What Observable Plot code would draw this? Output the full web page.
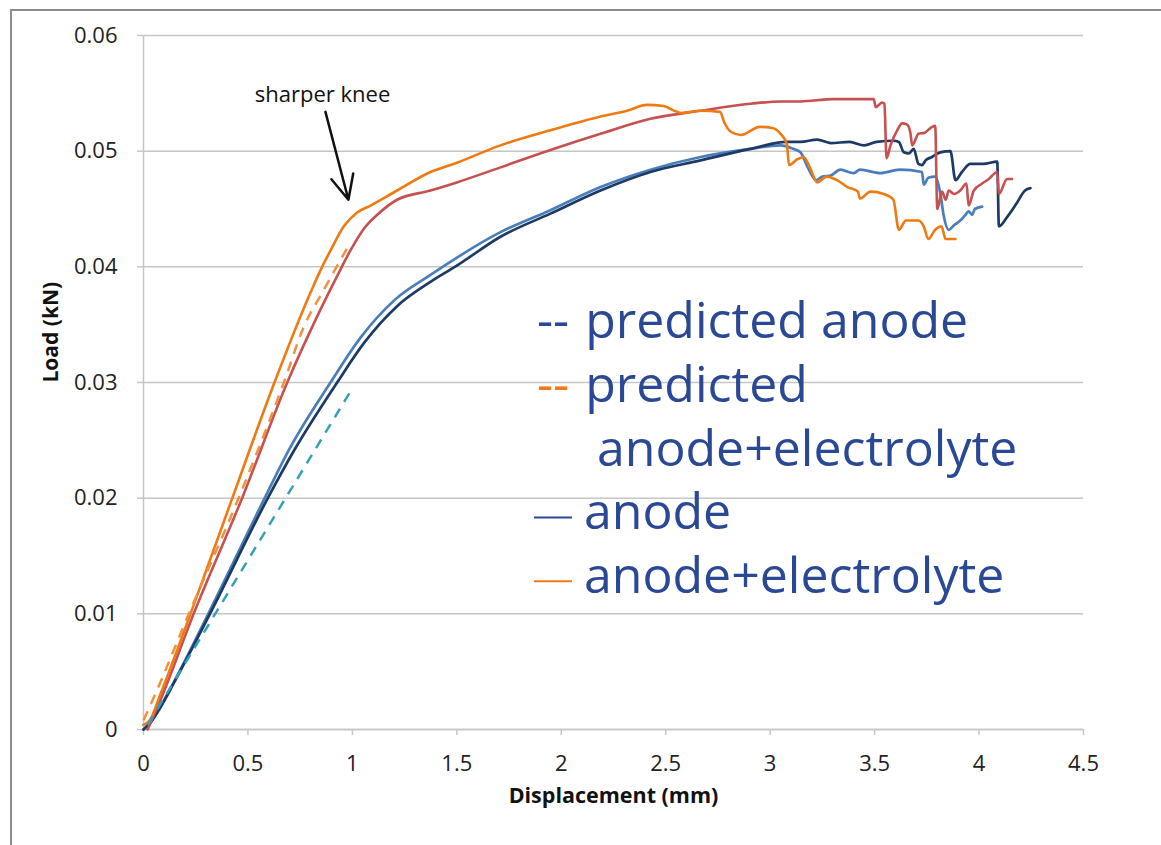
<!DOCTYPE html>
<html><head><meta charset="utf-8">
<script src="https://cdn.jsdelivr.net/npm/d3@7"></script>
<script src="https://cdn.jsdelivr.net/npm/@observablehq/plot@0.6"></script>
<style>
body{margin:0;background:#fff;}
#wrap{position:relative;width:1161px;height:845px;overflow:hidden;background:#fff;}
#frame{position:absolute;left:10px;top:9px;width:1200px;height:900px;border-left:2px solid #8c8c8c;border-top:2px solid #8c8c8c;pointer-events:none;}
#wrap svg{position:absolute;left:0;top:0;}
</style></head><body><div id="wrap"><div id="frame"></div></div>
<script>
// ---- data ----
const xTicks = [0, 0.5, 1, 1.5, 2, 2.5, 3, 3.5, 4, 4.5];
const xTickLabels = ["0", "0.5", "1", "1.5", "2", "2.5", "3", "3.5", "4", "4.5"];
const yTicks = [0, 0.01, 0.02, 0.03, 0.04, 0.05, 0.06];
const yTickLabels = ["0", "0.01", "0.02", "0.03", "0.04", "0.05", "0.06"];

// measured anode (dark)
const anodeDark = [[0,0],[0.03,0.0005],[0.081,0.0019],[0.177,0.0051],[0.318,0.01],[0.595,0.02],[0.72,0.0241],[0.927,0.03],[1.055,0.0334],[1.214,0.0366],[1.374,0.0387],[1.5,0.0401],[1.709,0.0426],[1.948,0.0446],[2.188,0.0466],[2.427,0.0482],[2.667,0.0492],[2.906,0.0502],[3.08,0.0508],[3.145,0.0508],[3.225,0.051],[3.29,0.0507],[3.38,0.0508],[3.45,0.0505],[3.51,0.0508],[3.59,0.0509],[3.616,0.0508],[3.64,0.0499],[3.664,0.0498],[3.687,0.0502],[3.71,0.0489],[3.727,0.0488],[3.744,0.0492],[3.775,0.0495],[3.815,0.0499],[3.863,0.05],[3.887,0.0475],[3.918,0.0482],[3.958,0.0489],[4.02,0.0489],[4.087,0.0491],[4.095,0.0435],[4.134,0.0443],[4.18,0.0455],[4.22,0.0466],[4.246,0.0468]];
// measured anode (light)
const anodeLight = [[0,0],[0.03,0.0006],[0.081,0.002],[0.177,0.0052],[0.31,0.01],[0.58,0.02],[0.70,0.0243],[0.895,0.03],[1.04,0.0339],[1.2,0.0371],[1.374,0.0393],[1.709,0.043],[1.948,0.0449],[2.188,0.0469],[2.427,0.0484],[2.667,0.0495],[2.906,0.0502],[3.05,0.0505],[3.11,0.0502],[3.145,0.0499],[3.18,0.0486],[3.22,0.0475],[3.25,0.0478],[3.29,0.0479],[3.336,0.0484],[3.40,0.0481],[3.43,0.0484],[3.527,0.0481],[3.62,0.0484],[3.727,0.0482],[3.735,0.0471],[3.757,0.0477],[3.79,0.0478],[3.815,0.0463],[3.83,0.0445],[3.855,0.0432],[3.88,0.0436],[3.91,0.044],[3.935,0.0445],[3.95,0.0448],[3.967,0.0445],[3.98,0.045],[4.015,0.0452]];
// measured anode+electrolyte (red)
const aeRed = [[0.02,0],[0.08,0.0025],[0.24,0.01],[0.472,0.02],[0.688,0.03],[0.831,0.0357],[0.927,0.0392],[0.99,0.0414],[1.055,0.0433],[1.119,0.0445],[1.214,0.0458],[1.374,0.0466],[1.5,0.0473],[1.709,0.0486],[1.948,0.0501],[2.188,0.0515],[2.427,0.0528],[2.667,0.0535],[2.906,0.0541],[3.05,0.0543],[3.145,0.0543],[3.3,0.0545],[3.43,0.0545],[3.496,0.0545],[3.505,0.0538],[3.536,0.0542],[3.547,0.0541],[3.557,0.0494],[3.576,0.0505],[3.608,0.0518],[3.632,0.0524],[3.656,0.0523],[3.672,0.0515],[3.68,0.0505],[3.71,0.0515],[3.74,0.0516],[3.775,0.0521],[3.79,0.0522],[3.8,0.045],[3.823,0.0465],[3.84,0.0458],[3.855,0.0466],[3.88,0.0463],[3.91,0.0466],[3.94,0.0472],[3.95,0.0453],[3.975,0.0466],[4.015,0.0472],[4.047,0.0476],[4.087,0.0482],[4.095,0.0463],[4.134,0.0476],[4.158,0.0476]];
// measured anode+electrolyte (orange)
const aeOrange = [[0,0.0004],[0.03,0.0008],[0.08,0.003],[0.225,0.01],[0.425,0.02],[0.627,0.03],[0.80,0.0378],[0.855,0.04],[0.895,0.0414],[0.959,0.0435],[1.023,0.0447],[1.087,0.0453],[1.214,0.0466],[1.374,0.0482],[1.5,0.049],[1.709,0.0505],[1.948,0.0518],[2.188,0.053],[2.315,0.0535],[2.41,0.054],[2.49,0.0539],[2.54,0.0535],[2.578,0.0533],[2.667,0.0535],[2.76,0.0534],[2.78,0.0525],[2.81,0.0517],[2.86,0.0514],[2.95,0.0521],[3.01,0.052],[3.05,0.0515],[3.08,0.0506],[3.09,0.0488],[3.13,0.0493],[3.16,0.0495],[3.19,0.0486],[3.225,0.0473],[3.27,0.0478],[3.32,0.0475],[3.37,0.0469],[3.42,0.0465],[3.43,0.0459],[3.48,0.0465],[3.544,0.0463],[3.59,0.0458],[3.616,0.0432],[3.65,0.044],[3.71,0.044],[3.735,0.0435],[3.757,0.0424],[3.79,0.0432],[3.82,0.0435],[3.84,0.0424],[3.887,0.0424]];
// predictions
const predAnode = [[0.02,0.0004],[1.0,0.0295]];
const predAE = [[0,0.0008],[0.05,0.0028],[0.217,0.01],[0.455,0.02],[0.672,0.03],[0.767,0.0348],[0.863,0.038],[0.99,0.0421]];

const annotations = [{label: "sharper knee", x: 0.857, y: 0.0549}];
const arrows = [{x1: 0.871, y1: 0.0534, x2: 0.981, y2: 0.0458}];

const legendItems = [
  {kind: "dash", swatch: "--", color: "#2a4894", text: "predicted anode"},
  {kind: "dash", swatch: "--", color: "#f07a1a", text: "predicted"},
  {kind: "cont", text: "anode+electrolyte"},
  {kind: "line", color: "#2a4894", text: "anode"},
  {kind: "line", color: "#f07a1a", text: "anode+electrolyte"}
];

const C = {dark: "#1d3a64", light: "#4a7ebb", red: "#c65150", orange: "#f07a12", teal: "#35a0b8", predOrange: "#f2913c", grid: "#c6c6c6"};

const lineOpts = (color, w) => ({x: d => d[0], y: d => d[1], stroke: color, strokeWidth: w, curve: "monotone-x", strokeLinejoin: "round", strokeLinecap: "round"});

const chart = Plot.plot({
  width: 1161, height: 845,
  marginLeft: 143, marginRight: 78, marginTop: 35, marginBottom: 116,
  style: {fontFamily: "'Open Sans', sans-serif", background: "transparent", overflow: "visible"},
  x: {domain: [0, 4.5]},
  y: {domain: [0, 0.06]},
  marks: [
    Plot.gridY(yTicks, {stroke: C.grid, strokeOpacity: 1, strokeWidth: 1.5}),
    Plot.axisY(yTicks, {tickSize: 6, tickPadding: 20, stroke: C.grid, strokeWidth: 1.5, fill: "#222", fontSize: 22, tickFormat: d => yTickLabels[yTicks.indexOf(d)], label: null}),
    Plot.axisX(xTicks, {tickSize: 6, tickPadding: 20, stroke: C.grid, strokeWidth: 1.5, fill: "#222", fontSize: 22, tickFormat: d => xTickLabels[xTicks.indexOf(d)], label: null}),
    Plot.ruleX([0], {stroke: C.grid, strokeWidth: 1.5}),
    Plot.ruleY([0], {stroke: C.grid, strokeWidth: 1.5}),
    Plot.line(anodeLight, lineOpts(C.light, 2.7)),
    Plot.line(anodeDark, lineOpts(C.dark, 2.7)),
    Plot.line(aeRed, lineOpts(C.red, 2.6)),
    Plot.line(aeOrange, lineOpts(C.orange, 2.6)),
    Plot.line(predAnode, {...lineOpts(C.teal, 2.5), strokeDasharray: "10,8", strokeLinecap: "butt"}),
    Plot.line(predAE, {...lineOpts(C.predOrange, 2.5), strokeDasharray: "10,8", strokeLinecap: "butt"}),
    Plot.arrow(arrows, {x1: "x1", y1: "y1", x2: "x2", y2: "y2", stroke: "#111", strokeWidth: 2.5, headLength: 16, headAngle: 50}),
    Plot.text(annotations, {x: "x", y: "y", text: "label", fontSize: 22, fill: "#111"}),
    Plot.text(["Displacement (mm)"], {frameAnchor: "bottom", dy: 73, fontSize: 21.5, fontWeight: "bold", fill: "#111"}),
    Plot.text(["Load (kN)"], {frameAnchor: "left", dx: -92, rotate: -90, fontSize: 21, fontWeight: "bold", fill: "#111"})
  ]
});

document.getElementById("wrap").appendChild(chart);

// legend drawn inside the plot area, as in the reference
const svg = d3.select(chart);
const lg = svg.append("g").attr("font-family", "'Open Sans', sans-serif").attr("font-size", 50).attr("fill", "#2a4894").attr("text-anchor", "start");
const lx = 537, ly0 = 338, step = 63.8;
legendItems.forEach((it, i) => {
  const by = ly0 + i * step;
  if (it.kind === "dash") {
    const t = lg.append("text").attr("x", lx).attr("y", by);
    t.append("tspan").attr("fill", it.color).text(it.swatch);
    t.append("tspan").attr("dx", 16).text(it.text);
  } else if (it.kind === "cont") {
    lg.append("text").attr("x", lx + 60).attr("y", by).text(it.text);
  } else {
    lg.append("line").attr("x1", lx - 3).attr("x2", lx + 35).attr("y1", by - 12).attr("y2", by - 12).attr("stroke", it.color).attr("stroke-width", 2);
    lg.append("text").attr("x", lx + 47).attr("y", by).text(it.text);
  }
});
</script>
</body></html>
